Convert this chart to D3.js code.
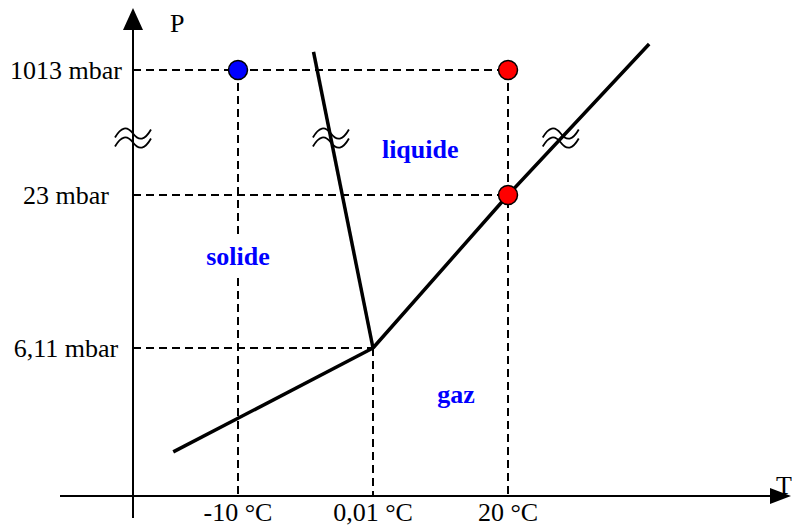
<!DOCTYPE html>
<html>
<head>
<meta charset="utf-8">
<script src="https://cdn.jsdelivr.net/npm/d3@7"></script>
<style>
  body { margin: 0; background: #fff; }
  text { font-family: "Liberation Serif", "Times New Roman", serif; }
</style>
</head>
<body>
<script>
// diagramme de phase de l'eau (schema, echelles non lineaires)

var tempTicks = [-10, 0.01, 20];
var tempLabels = ['-10 °C', '0,01 °C', '20 °C'];
var presTicks = [1013, 23, 6.11];
var presLabels = ['1013 mbar', '23 mbar', '6,11 mbar'];

// courbes d'equilibre [T, P]
var fusion = [[-4.4, 1156], [0.01, 6.11]];
var vaporisation = [[0.01, 6.11], [20, 23], [40.9, 1219]];
var sublimation = [[-14.8, 1.82], [0.01, 6.11]];

// points marques
var pointT = [-10, 20, 20];
var pointP = [1013, 1013, 23];

// noms des phases
var phaseNames = ['solide', 'liquide', 'gaz'];
var phaseT = [-10, 7, 12.3];
var phaseP = [15.3, 316, 3.84];

var breakP = 470; // coupure de l'axe des pressions

var width = 792, height = 527;

var x = d3.scaleLinear()
    .domain(tempTicks.slice().sort(d3.ascending))
    .range([238, 373, 508]);

var y = d3.scaleLinear()
    .domain([0, 6.11, 23, 1013])
    .range([496, 348, 195, 70]);

var originX = 133,
    axisY = y(0);

var svg = d3.select('body').append('svg')
    .attr('width', width)
    .attr('height', height);

// pointilles
var dash = svg.append('g')
    .attr('stroke', '#000')
    .attr('stroke-width', 2)
    .attr('stroke-dasharray', '8,5')
    .attr('fill', 'none');

var hLevels = [[1013, 20], [23, 20], [6.11, 0.01]];
dash.selectAll('line.h')
    .data(hLevels).enter()
  .append('line')
    .attr('x1', originX)
    .attr('x2', function (d) { return x(d[1]); })
    .attr('y1', function (d) { return y(d[0]); })
    .attr('y2', function (d) { return y(d[0]); });

var vLevels = [[-10, 1013], [0.01, 6.11], [20, 1013]];
dash.selectAll('line.v')
    .data(vLevels).enter()
  .append('line')
    .attr('x1', function (d) { return x(d[0]); })
    .attr('x2', function (d) { return x(d[0]); })
    .attr('y1', function (d) { return y(d[1]); })
    .attr('y2', axisY);

// axes
var axes = svg.append('g').attr('stroke', '#000').attr('stroke-width', 2);
axes.append('line')
    .attr('x1', originX).attr('x2', originX)
    .attr('y1', 26).attr('y2', 518);
axes.append('line')
    .attr('x1', 60).attr('x2', 772)
    .attr('y1', axisY).attr('y2', axisY);
svg.append('path')
    .attr('d', 'M' + originX + ',8 L' + (originX - 10) + ',30 L' + (originX + 10) + ',30 Z')
    .attr('fill', '#000');
svg.append('path')
    .attr('d', 'M791,' + axisY + ' L770,' + (axisY - 8) + ' L770,' + (axisY + 8) + ' Z')
    .attr('fill', '#000');

// courbes
var line = d3.line()
    .x(function (d) { return x(d[0]); })
    .y(function (d) { return y(d[1]); });

var curves = [fusion, vaporisation, sublimation];
svg.append('g')
  .selectAll('path')
    .data(curves).enter()
  .append('path')
    .attr('d', line)
    .attr('fill', 'none')
    .attr('stroke', '#000')
    .attr('stroke-width', 3.5);

// symboles de coupure
var yb = y(breakP);
function crossX(curve) {
    for (var i = 0; i < curve.length - 1; i++) {
        var x0 = x(curve[i][0]), y0 = y(curve[i][1]),
            x1 = x(curve[i + 1][0]), y1 = y(curve[i + 1][1]);
        if ((yb - y0) * (yb - y1) <= 0) {
            return x0 + (yb - y0) / (y1 - y0) * (x1 - x0);
        }
    }
    return null;
}
var breakXs = [originX, crossX(fusion), crossX(vaporisation)];

var waves = svg.append('g').selectAll('g')
    .data(breakXs).enter()
  .append('g')
    .attr('transform', function (d) { return 'translate(' + d + ',' + yb + ')'; });
waves.selectAll('path')
    .data([-5, 4]).enter()
  .append('path')
    .attr('d', function (o) {
        return 'M-18,' + (o + 4) + ' Q-9,' + (o - 12) + ' 0,' + o + ' T18,' + (o - 4);
    })
    .attr('fill', 'none')
    .attr('stroke', '#000')
    .attr('stroke-width', 1.8);

// etiquettes des axes
svg.append('g').selectAll('text')
    .data(presTicks).enter()
  .append('text')
    .attr('x', 66)
    .attr('y', function (d) { return y(d) + 8.5; })
    .attr('text-anchor', 'middle')
    .attr('font-size', 26)
    .text(function (d, i) { return presLabels[i]; });

svg.append('g').selectAll('text')
    .data(tempTicks).enter()
  .append('text')
    .attr('x', function (d) { return x(d); })
    .attr('y', 521)
    .attr('text-anchor', 'middle')
    .attr('font-size', 26)
    .text(function (d, i) { return tempLabels[i]; });

svg.append('text').attr('x', 170).attr('y', 32).attr('font-size', 26).text('P');
svg.append('text').attr('x', 776).attr('y', 494).attr('font-size', 26).text('T');

// noms des phases
var phases = svg.append('g').selectAll('g')
    .data(phaseNames).enter()
  .append('g');
phases.append('text')
    .attr('x', function (d, i) { return x(phaseT[i]); })
    .attr('y', function (d, i) { return y(phaseP[i]); })
    .attr('text-anchor', 'middle')
    .attr('font-size', 26)
    .attr('font-weight', 'bold')
    .attr('fill', '#0000ff')
    .text(function (d) { return d; })
    .each(function () {
        var b = this.getBBox();
        d3.select(this.parentNode).insert('rect', 'text')
            .attr('x', b.x - 2).attr('y', b.y - 4)
            .attr('width', b.width + 4).attr('height', b.height + 8)
            .attr('fill', '#fff');
    });

// points
svg.append('g').selectAll('circle')
    .data(pointT).enter()
  .append('circle')
    .attr('cx', function (d) { return x(d); })
    .attr('cy', function (d, i) { return y(pointP[i]); })
    .attr('r', 9.5)
    .attr('fill', function (d) { return d < 0 ? '#0000ff' : '#ff0000'; })
    .attr('stroke', '#000')
    .attr('stroke-width', 1.5);
</script>
</body>
</html>
